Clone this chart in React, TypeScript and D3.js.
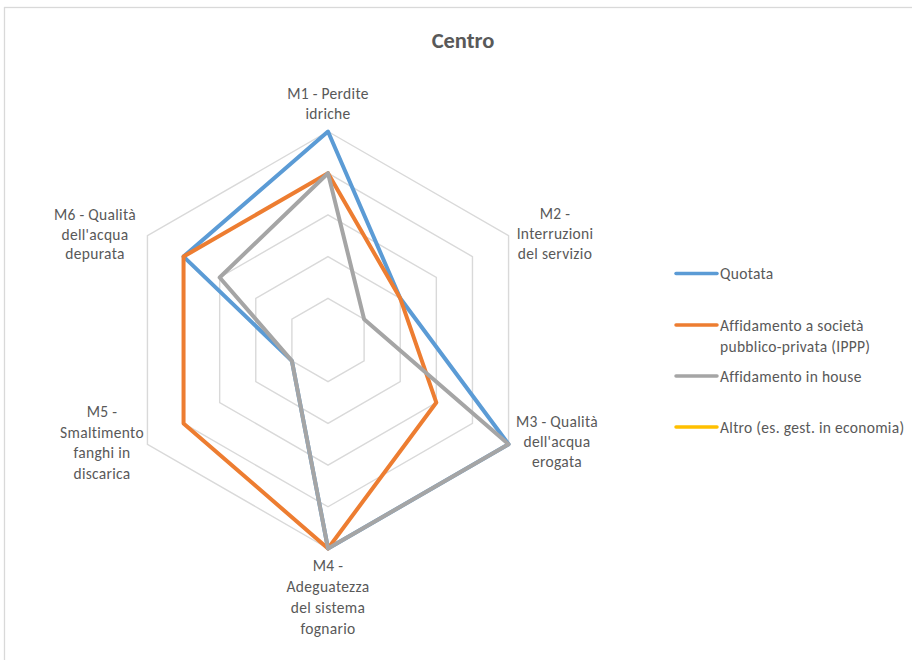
import React from "react";
import * as d3 from "d3";

// Indicator axes (each label split into its printed lines)
const axes: string[][] = [
  ["M1 - Perdite", "idriche"],
  ["M2 -", "Interruzioni", "del servizio"],
  ["M3 - Qualità", "dell'acqua", "erogata"],
  ["M4 -", "Adeguatezza", "del sistema", "fognario"],
  ["M5 -", "Smaltimento", "fanghi in", "discarica"],
  ["M6 - Qualità", "dell'acqua", "depurata"],
];

const seriesNames: string[][] = [
  ["Quotata"],
  ["Affidamento a società", "pubblico-privata (IPPP)"],
  ["Affidamento in house"],
  ["Altro (es. gest. in economia)"],
];
const seriesColors = ["#5B9BD5", "#ED7D31", "#A5A5A5", "#FFC000"];

const quotata = [5, 2, 5, 5, 1, 4];
const ippp = [4, 2, 3, 5, 4, 4];
const inHouse = [4, 1, 5, 5, 1, 3];
const altro: (number | null)[] = [null, null, null, null, null, null];

const seriesValues: (number | null)[][] = [quotata, ippp, inHouse, altro];
const ringTicks = [1, 2, 3, 4, 5];

const W = 912;
const H = 660;
const cx = 328;
const cy = 340;
const outerR = 208.5;
const textColor = "#595959";
const font = "Carlito, Calibri, Lato, sans-serif";
const labelSize = 15.5;
const labelSpacing = 0.3;

// Label placement per axis: anchor point (centre of the text block) and line step
const labelCenters: { x: number; y: number; step: number }[] = [
  { x: 328, y: 103, step: 20 },
  { x: 555, y: 233.5, step: 20 },
  { x: 557, y: 441.5, step: 20 },
  { x: 328, y: 596.5, step: 21 },
  { x: 102, y: 442.5, step: 20.8 },
  { x: 95, y: 234, step: 19.5 },
];

export default function App() {
  const r = d3.scaleLinear().domain([0, 5]).range([0, outerR]);
  const angle = d3
    .scalePoint<number>()
    .domain(d3.range(axes.length))
    .range([0, (2 * Math.PI * (axes.length - 1)) / axes.length]);

  const ringPath = (v: number) =>
    d3
      .lineRadial<number>()
      .angle((i) => angle(i)!)
      .radius(() => r(v))
      .curve(d3.curveLinearClosed)(d3.range(axes.length))!;

  const seriesPath = (vals: (number | null)[]) =>
    d3
      .lineRadial<number>()
      .angle((i) => angle(i)!)
      .radius((i) => r(vals[i] as number))
      .curve(d3.curveLinearClosed)(d3.range(axes.length))!;

  const legendX0 = 676;
  const legendX1 = 717;
  const legendY = [273.5, 325, 376, 427];

  return (
    <svg
      width={W}
      height={H}
      style={{ position: "absolute", left: 0, top: 0, background: "#fff" }}
      fontFamily={font}
    >
      <rect x={4.5} y={7.5} width={W + 20} height={H + 20} fill="#fff" stroke="#D9D9D9" strokeWidth={1.3} />
      <text x={463} y={47.5} textAnchor="middle" fontSize={22.5} fontWeight="bold" fill={textColor}>
        Centro
      </text>

      <g transform={`translate(${cx},${cy})`}>
        {ringTicks.map((t) => (
          <path key={t} d={ringPath(t)} fill="none" stroke="#D9D9D9" strokeWidth={1.4} />
        ))}
        {seriesValues.map((vals, s) =>
          vals.every((v) => v != null) ? (
            <path
              key={s}
              d={seriesPath(vals)}
              fill="none"
              stroke={seriesColors[s]}
              strokeWidth={4}
              strokeLinejoin="round"
            />
          ) : null
        )}
      </g>

      {axes.map((lines, i) => {
        const c = labelCenters[i];
        const top = c.y - ((lines.length - 1) * c.step) / 2;
        return (
          <text
            key={i}
            textAnchor="middle"
            fontSize={labelSize}
            letterSpacing={labelSpacing}
            fill={textColor}
          >
            {lines.map((ln, k) => (
              <tspan key={k} x={c.x} y={top + k * c.step + 5.5}>
                {ln}
              </tspan>
            ))}
          </text>
        );
      })}

      {seriesNames.map((lines, s) => (
        <g key={s}>
          <line
            x1={legendX0}
            x2={legendX1}
            y1={legendY[s]}
            y2={legendY[s]}
            stroke={seriesColors[s]}
            strokeWidth={3.5}
            strokeLinecap="round"
          />
          <text fontSize={labelSize} letterSpacing={labelSpacing} fill={textColor}>
            {lines.map((ln, k) => (
              <tspan key={k} x={legendX1 + 3} y={legendY[s] + 5.5 + k * 21.5}>
                {ln}
              </tspan>
            ))}
          </text>
        </g>
      ))}
    </svg>
  );
}
